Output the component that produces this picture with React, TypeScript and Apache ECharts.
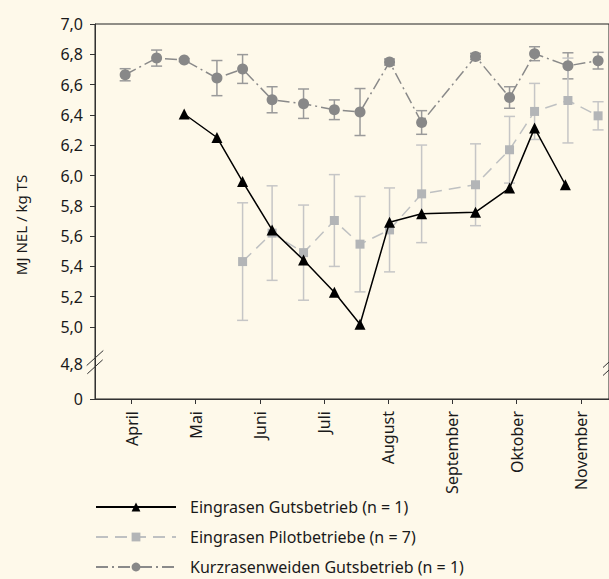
import React, { useEffect, useRef } from "react";
import * as echarts from "echarts";

// ---------- data ----------
const monthLabels = ["April", "Mai", "Juni", "Juli", "August", "September", "Oktober", "November"];
const monthTicks = [0, 1, 2, 3, 4, 5, 6, 7];

// y axis: broken axis, bottom value stands for "0"
const yAxisBottom = 4.525;
const yTickValues = [4.525, 5.0, 5.2, 5.4, 5.6, 5.8, 6.0, 6.2, 6.4, 6.6, 6.8, 7.0];
const yLabelValues = [4.525, 4.756, 5.0, 5.2, 5.4, 5.6, 5.8, 6.0, 6.2, 6.4, 6.6, 6.8, 7.0];

const gutName = "Eingrasen Gutsbetrieb (n = 1)";
const gutX = [0.82, 1.33, 1.73, 2.19, 2.68, 3.16, 3.56, 4.02, 4.52, 5.36, 5.89, 6.28, 6.76];
const gutY = [6.406, 6.251, 5.96, 5.641, 5.442, 5.23, 5.018, 5.692, 5.747, 5.758, 5.917, 6.313, 5.939];

const pilotName = "Eingrasen Pilotbetriebe (n = 7)";
const pilotX = [1.73, 2.19, 2.68, 3.16, 3.56, 4.02, 4.52, 5.36, 5.89, 6.28, 6.8, 7.27];
const pilotY = [5.432, 5.62, 5.491, 5.703, 5.547, 5.641, 5.879, 5.939, 6.17, 6.423, 6.495, 6.394];
const pilotErr = [0.388, 0.312, 0.314, 0.303, 0.315, 0.277, 0.322, 0.27, 0.22, 0.185, 0.28, 0.093];

const kurzName = "Kurzrasenweiden Gutsbetrieb (n = 1)";
const kurzX = [-0.1, 0.39, 0.82, 1.33, 1.73, 2.19, 2.68, 3.16, 3.56, 4.02, 4.52, 5.36, 5.89, 6.28, 6.8, 7.27];
const kurzY = [6.665, 6.775, 6.762, 6.643, 6.703, 6.5, 6.474, 6.434, 6.419, 6.749, 6.35, 6.786, 6.515, 6.804, 6.724, 6.758];
const kurzErr = [0.04, 0.053, 0.01, 0.116, 0.095, 0.086, 0.097, 0.065, 0.155, 0.02, 0.078, 0.02, 0.071, 0.046, 0.086, 0.055];

const FONT = "'Noto Sans', 'Open Sans', sans-serif";
const TEXT = "#1a1a1a";
const BG = "#fef9ea";

function errorSeries(name: string, xs: number[], ys: number[], errs: number[], color: string) {
  return {
    type: "custom",
    name,
    silent: true,
    z: 1,
    encode: { x: 0, y: [1, 2] },
    data: xs.map((x, i) => [x, ys[i] - errs[i], ys[i] + errs[i]]),
    renderItem: (params: any, api: any) => {
      const x = api.value(0);
      const top = api.coord([x, api.value(2)]);
      const bot = api.coord([x, api.value(1)]);
      const w = 5.5;
      const style = { stroke: color, lineWidth: 1.5 };
      return {
        type: "group",
        children: [
          { type: "line", shape: { x1: top[0], y1: top[1], x2: bot[0], y2: bot[1] }, style },
          { type: "line", shape: { x1: top[0] - w, y1: top[1], x2: top[0] + w, y2: top[1] }, style },
          { type: "line", shape: { x1: bot[0] - w, y1: bot[1], x2: bot[0] + w, y2: bot[1] }, style },
        ],
      };
    },
  };
}

function fmtY(v: number) {
  if (v < 4.6) return "0";
  if (v < 4.9) return "4,8";
  return v.toFixed(1).replace(".", ",");
}

function legendFor(name: string, top: number) {
  return {
    orient: "vertical",
    left: 95,
    top,
    padding: 0,
    itemWidth: 80,
    itemHeight: 11,
    data: [name],
    textStyle: { fontSize: 16, lineHeight: 16, fontFamily: FONT, color: TEXT, padding: [0, 0, 0, 9] },
  };
}

export default function App() {
  const ref = useRef<HTMLDivElement>(null);
  useEffect(() => {
    if (!ref.current) return;
    const chart = echarts.init(ref.current, null, { renderer: "svg" });
    const breakStyle = { stroke: "#333", lineWidth: 1 };
    chart.setOption({
      animation: false,
      backgroundColor: BG,
      textStyle: { fontFamily: FONT },
      grid: {
        left: 95,
        right: -3,
        top: 24,
        bottom: 180,
        show: true,
        borderColor: "#222",
        borderWidth: 1,
        backgroundColor: "transparent",
      },
      legend: [legendFor(gutName, 499), legendFor(pilotName, 529), legendFor(kurzName, 559)],
      xAxis: {
        type: "value",
        min: -0.57,
        max: 7.44,
        splitLine: { show: false },
        axisLine: { onZero: false, lineStyle: { color: "#333", width: 1 } },
        axisTick: { customValues: monthTicks, length: 5, lineStyle: { color: "#333" } },
        axisLabel: {
          customValues: monthTicks,
          formatter: (v: number) => monthLabels[Math.round(v)] ?? "",
          rotate: 90,
          margin: 12,
          fontSize: 16,
          fontFamily: FONT,
          color: TEXT,
        },
      },
      yAxis: {
        type: "value",
        min: yAxisBottom,
        max: 7.0,
        splitLine: { show: false },
        axisLine: { show: true, onZero: false, lineStyle: { color: "#333", width: 1 } },
        axisTick: { show: true, customValues: yTickValues, length: 5, lineStyle: { color: "#333" } },
        axisLabel: {
          customValues: yLabelValues,
          formatter: fmtY,
          margin: 12,
          fontSize: 16,
          fontFamily: FONT,
          color: TEXT,
        },
      },
      graphic: [
        {
          type: "text",
          x: 21,
          y: 225,
          rotation: Math.PI / 2,
          style: {
            text: "MJ NEL / kg TS",
            fontSize: 15,
            fontFamily: FONT,
            fill: TEXT,
            align: "center",
            verticalAlign: "middle",
          },
        },
        { type: "line", shape: { x1: 86.7, y1: 365.5, x2: 103.3, y2: 350.5 }, style: breakStyle, z: 100 },
        { type: "line", shape: { x1: 87.3, y1: 373.8, x2: 102.7, y2: 359.8 }, style: breakStyle, z: 100 },
        { type: "line", shape: { x1: 603, y1: 367.5, x2: 620, y2: 352 }, style: breakStyle, z: 100 },
        { type: "line", shape: { x1: 603, y1: 375.5, x2: 620, y2: 360 }, style: breakStyle, z: 100 },
      ],
      series: [
        errorSeries("kurzErr", kurzX, kurzY, kurzErr, "#9a9a9a"),
        errorSeries("pilotErr", pilotX, pilotY, pilotErr, "#c6c6c6"),
        {
          type: "line",
          name: kurzName,
          z: 3,
          data: kurzX.map((x, i) => [x, kurzY[i]]),
          symbol: "circle",
          symbolSize: 11,
          itemStyle: { color: "#888888" },
          lineStyle: { color: "#8a8a8a", width: 1.5, type: [12, 4, 2, 4] },
        },
        {
          type: "line",
          name: pilotName,
          z: 4,
          data: pilotX.map((x, i) => [x, pilotY[i]]),
          symbol: "rect",
          symbolSize: 9,
          itemStyle: { color: "#b3b5b7" },
          lineStyle: { color: "#bfc1c2", width: 1.5, type: [12, 7] },
        },
        {
          type: "line",
          name: gutName,
          z: 5,
          data: gutX.map((x, i) => [x, gutY[i]]),
          symbol: "triangle",
          symbolSize: 11,
          itemStyle: { color: "#000000" },
          lineStyle: { color: "#000000", width: 1.5 },
        },
      ],
    });
    return () => chart.dispose();
  }, []);
  return (
    <div
      ref={ref}
      style={{ position: "fixed", left: 0, top: 0, width: 609, height: 579, background: BG }}
    />
  );
}
